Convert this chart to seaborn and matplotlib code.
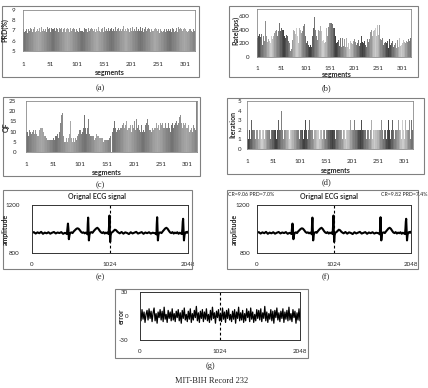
import numpy as np
import pandas as pd
import matplotlib
matplotlib.use("Agg")
import matplotlib.pyplot as plt
import seaborn as sns
from matplotlib.patches import Rectangle

# ---- data (318 segments of MIT-BIH record 232) ----
prd = [7.1, 7.0, 6.9, 7.2, 7.0, 6.9, 7.1, 7.0, 6.8, 7.0, 7.1, 6.9, 7.0, 7.2, 7.3, 7.1, 7.0, 6.9, 7.2, 7.1,
       7.0, 7.3, 7.1, 6.9, 7.0, 7.2, 7.1, 6.9, 7.0, 7.1, 7.2, 7.0, 6.9, 7.1, 7.3, 7.2, 7.0, 7.1, 6.9, 7.0,
       7.2, 7.1, 7.0, 6.9, 7.1, 7.3, 7.0, 7.1, 7.2, 7.0, 6.9, 7.1, 7.2, 7.0, 7.1, 7.3, 7.1, 7.0, 7.2, 7.1,
       7.0, 7.2, 7.3, 7.1, 7.0, 6.9, 7.1, 7.2, 7.0, 7.1, 7.3, 7.2, 7.0, 6.9, 7.1, 7.0, 7.2, 7.1, 6.9, 7.0,
       7.1, 7.3, 7.2, 7.0, 7.1, 6.9, 7.0, 7.2, 7.1, 7.0, 6.9, 7.1, 7.3, 7.2, 7.0, 7.1, 7.0, 6.9, 7.1, 7.2,
       7.0, 7.1, 6.9, 7.0, 7.2, 7.1, 7.0, 6.8, 7.0, 7.1, 7.0, 6.9, 7.1, 7.2, 7.0, 7.1, 7.3, 7.1, 7.0, 6.9,
       7.1, 7.2, 7.0, 6.9, 7.1, 7.3, 7.2, 7.0, 7.1, 6.9, 7.0, 7.2, 7.1, 7.0, 6.9, 7.1, 7.2, 7.0, 7.1, 7.3,
       7.2, 7.0, 7.1, 6.9, 7.0, 7.1, 7.2, 7.0, 6.9, 7.1, 7.3, 7.1, 7.0, 7.2, 7.1, 6.9, 7.0, 7.1, 7.2, 7.0,
       6.9, 7.1, 7.0, 7.2, 7.1, 7.0, 6.9, 7.1, 7.2, 7.0, 7.1, 7.3, 7.0, 6.9, 7.1, 7.0, 7.2, 7.1, 7.0, 6.9,
       7.1, 7.2, 7.0, 7.1, 7.3, 7.4, 7.1, 7.0, 7.2, 7.1, 6.9, 7.0, 7.1, 7.2, 7.0, 7.1, 6.9, 7.0, 7.2, 7.1,
       7.0, 7.1, 7.3, 7.2, 7.0, 6.9, 7.1, 7.0, 7.2, 7.3, 7.1, 7.0, 6.9, 7.1, 7.2, 7.0, 7.1, 7.3, 7.1, 7.0,
       7.2, 7.1, 6.9, 7.0, 7.1, 7.2, 7.3, 7.1, 7.0, 6.9, 7.1, 7.0, 7.2, 7.1, 7.0, 6.9, 7.0, 7.1, 7.2, 7.0,
       7.1, 7.0, 6.9, 7.1, 7.2, 7.0, 7.1, 6.9, 7.0, 7.2, 7.1, 7.0, 6.8, 7.0, 7.1, 7.2, 7.0, 6.9, 7.1, 7.0,
       7.2, 7.1, 7.0, 6.9, 7.0, 7.1, 6.9, 7.0, 7.2, 7.1, 7.0, 6.9, 7.1, 7.0, 6.9, 7.1, 7.2, 7.0, 7.1, 7.0,
       6.9, 7.0, 7.1, 7.2, 7.0, 6.9, 7.1, 7.3, 7.2, 7.1, 7.0, 7.2, 7.3, 7.1, 7.0, 7.2, 7.1, 7.3, 7.2, 7.0,
       7.1, 7.2, 7.0, 7.1, 6.9, 7.0, 7.2, 7.1, 7.0, 7.1, 7.2, 7.0, 7.1, 6.9, 7.0, 7.1, 7.2, 7.0]

rate = [320, 280, 350, 300, 240, 330, 360, 290, 210, 340, 300, 180, 260, 310, 350, 240, 420, 520, 460, 300,
        280, 220, 300, 260, 180, 230, 280, 210, 250, 300, 220, 190, 260, 240, 310, 280, 350, 300, 380, 330,
        400, 360, 300, 420, 380, 470, 500, 450, 380, 480, 420, 360, 400, 350, 390, 330, 300, 360, 280, 380,
        320, 260, 300, 220, 180, 230, 150, 200, 120, 90, 150, 110, 200, 250, 370, 400, 350, 380, 300, 330,
        260, 420, 380, 300, 250, 200, 300, 420, 380, 400, 430, 350, 410, 380, 300, 400, 450, 350, 480, 560,
        300, 250, 200, 280, 230, 260, 180, 240, 150, 120, 180, 100, 140, 200, 300, 380, 420, 500, 580, 480,
        400, 350, 300, 380, 250, 330, 400, 340, 280, 380, 300, 450, 660, 380, 300, 240, 180, 250, 300, 200,
        160, 220, 350, 420, 380, 300, 460, 440, 480, 500, 470, 490, 450, 500, 430, 480, 460, 420, 450, 400,
        430, 380, 300, 250, 200, 280, 220, 180, 250, 200, 160, 230, 270, 200, 150, 240, 280, 200, 160, 220,
        260, 200, 150, 220, 280, 180, 140, 230, 200, 260, 180, 120, 200, 240, 170, 210, 280, 190, 150, 230,
        200, 260, 150, 220, 300, 180, 240, 200, 130, 250, 220, 160, 280, 200, 240, 300, 180, 220, 260, 200,
        150, 230, 280, 200, 180, 240, 140, 200, 260, 180, 220, 150, 260, 300, 360, 280, 400, 350, 300, 420,
        380, 470, 400, 350, 430, 380, 300, 420, 460, 360, 320, 400, 470, 380, 300, 260, 320, 250, 200, 280,
        230, 180, 260, 200, 150, 220, 280, 200, 160, 240, 180, 130, 200, 260, 220, 170, 240, 200, 150, 230,
        200, 150, 120, 180, 240, 200, 280, 160, 130, 200, 250, 180, 140, 220, 270, 200, 160, 230, 180, 240,
        200, 160, 250, 190, 220, 280, 200, 170, 240, 300, 220, 180, 260, 300, 240, 200, 270, 230]

qf = [10, 9, 10, 9, 8, 10, 11, 9, 10, 10, 9, 8, 10, 11, 10, 9, 10, 11, 10, 9,
      8, 8, 9, 8, 10, 11, 12, 13, 12, 11, 12, 11, 10, 9, 8, 7, 8, 6, 7, 6,
      5, 6, 7, 6, 7, 6, 5, 6, 7, 6, 8, 7, 6, 7, 8, 7, 8, 6, 9, 8,
      7, 9, 10, 12, 14, 16, 18, 19, 12, 8, 6, 5, 6, 5, 6, 7, 6, 5, 6, 7,
      9, 12, 15, 10, 7, 6, 5, 6, 7, 6, 5, 6, 7, 6, 10, 8, 7, 9, 10, 11,
      10, 11, 10, 9, 11, 10, 12, 15, 18, 17, 12, 10, 9, 11, 12, 14, 16, 13, 9, 8,
      9, 8, 7, 8, 9, 8, 7, 6, 8, 7, 6, 9, 8, 7, 8, 10, 7, 6, 7, 8,
      7, 6, 7, 6, 5, 6, 7, 6, 7, 6, 5, 6, 7, 6, 6, 7, 6, 8, 9, 8,
      10, 11, 12, 14, 15, 13, 12, 11, 10, 12, 11, 13, 12, 11, 10, 12, 14, 12, 11, 13,
      12, 14, 13, 12, 11, 13, 15, 12, 11, 10, 12, 14, 12, 11, 13, 12, 10, 11, 13, 12,
      14, 15, 12, 11, 13, 16, 14, 12, 11, 13, 12, 11, 10, 12, 13, 11, 10, 9, 11, 12,
      10, 11, 13, 12, 14, 16, 15, 13, 12, 11, 10, 11, 12, 10, 11, 12, 13, 11, 12, 13,
      12, 13, 14, 13, 12, 14, 13, 12, 11, 13, 14, 13, 12, 14, 13, 12, 11, 12, 13, 14,
      13, 12, 11, 12, 14, 13, 12, 11, 10, 12, 13, 12, 14, 13, 12, 11, 13, 12, 14, 15,
      14, 13, 12, 14, 15, 17, 19, 18, 16, 14, 13, 12, 14, 15, 13, 12, 14, 13, 12, 11,
      12, 11, 13, 12, 10, 11, 13, 12, 11, 10, 12, 13, 11, 12, 10, 11, 12, 26]

iterations = [2, 2, 1, 2, 2, 2, 1, 2, 3, 2, 2, 1, 2, 2, 2, 2, 1, 2, 2, 3,
              2, 2, 1, 2, 2, 2, 2, 1, 2, 2, 3, 2, 2, 1, 2, 2, 2, 2, 3, 2,
              1, 2, 2, 2, 2, 1, 2, 3, 2, 2, 2, 1, 2, 2, 2, 2, 1, 2, 2, 2,
              3, 2, 2, 1, 2, 2, 4, 2, 2, 1, 2, 2, 3, 2, 2, 2, 1, 2, 2, 2,
              2, 1, 2, 2, 3, 2, 2, 2, 1, 2, 2, 2, 2, 3, 2, 1, 2, 2, 2, 2,
              1, 2, 2, 3, 2, 2, 2, 2, 1, 2, 2, 2, 3, 2, 2, 1, 2, 2, 2, 3,
              2, 2, 1, 2, 2, 2, 4, 1, 3, 2, 2, 2, 1, 2, 3, 2, 2, 2, 1, 2,
              2, 3, 2, 2, 1, 2, 2, 4, 2, 2, 1, 2, 2, 3, 2, 2, 2, 1, 2, 2,
              2, 2, 3, 2, 1, 2, 2, 2, 2, 1, 2, 2, 3, 2, 2, 2, 1, 2, 2, 2,
              3, 2, 1, 2, 2, 2, 2, 2, 1, 2, 2, 3, 2, 2, 2, 1, 2, 2, 3, 2,
              2, 1, 2, 2, 2, 3, 4, 2, 1, 2, 2, 2, 3, 2, 1, 2, 2, 2, 2, 3,
              2, 2, 1, 2, 3, 2, 2, 2, 1, 2, 2, 3, 2, 2, 1, 2, 2, 2, 3, 2,
              1, 2, 2, 3, 2, 2, 2, 1, 2, 2, 3, 2, 2, 2, 1, 2, 2, 3, 2, 2,
              2, 1, 2, 2, 3, 2, 2, 1, 2, 2, 2, 3, 2, 2, 1, 2, 2, 2, 3, 2,
              2, 2, 1, 3, 2, 2, 2, 1, 2, 2, 3, 2, 2, 2, 2, 1, 2, 3, 2, 2,
              2, 1, 2, 3, 2, 2, 1, 2, 4, 2, 2, 3, 2, 1, 2, 3, 2, 2]

# ECG segment (sample index, amplitude) - original and reconstruction look the same
ecg_t = [0, 24, 48, 72, 96, 120, 144, 168, 192, 216, 240, 264, 288, 312, 336, 360, 384, 408, 432,
         448, 458, 466, 472, 478, 484, 492, 500, 516, 532, 548, 564, 580, 596, 612, 628, 644, 660, 676, 692, 708,
         722, 728, 732, 737, 742, 747, 754, 762, 778, 794, 810, 826, 842, 858, 874, 890, 906, 922, 938, 954, 970, 986, 998,
         1006, 1012, 1017, 1021, 1026, 1032, 1040, 1056, 1072, 1088, 1104, 1120, 1136,
         1152, 1176, 1200, 1224, 1248, 1272, 1296, 1320, 1344, 1368, 1392, 1416, 1440, 1464, 1488, 1512, 1536, 1560, 1584, 1608,
         1628, 1634, 1638, 1643, 1648, 1653, 1660, 1668, 1684, 1700, 1716, 1732, 1748, 1764, 1780, 1796, 1812, 1828, 1844,
         1860, 1876, 1892, 1908, 1924, 1940, 1956,
         1968, 1974, 1979, 1984, 1989, 1995, 2002, 2010, 2024, 2036, 2048]
ecg_v = [968, 974, 962, 972, 965, 976, 960, 970, 964, 973, 961, 969, 975, 963, 971, 966, 974, 960, 968,
         964, 958, 1010, 1045, 1000, 915, 948, 966, 972, 966, 980, 990, 1000, 1006, 1002, 990, 976, 968, 972, 964, 970,
         962, 956, 1040, 1095, 1010, 905, 950, 968, 974, 968, 982, 994, 1004, 1010, 1000, 984, 972, 966, 974, 962, 970, 964, 972,
         958, 1030, 1112, 990, 892, 945, 968, 974, 984, 994, 990, 978, 970,
         964, 975, 961, 972, 967, 958, 973, 963, 970, 976, 962, 968, 974, 960, 971, 965, 973, 962, 969, 966,
         960, 955, 1040, 1098, 1008, 905, 952, 968, 972, 966, 980, 992, 1004, 1010, 1002, 986, 972, 966, 974,
         962, 970, 965, 973, 960, 969, 963,
         958, 1000, 1060, 1085, 1000, 905, 950, 968, 975, 968, 978]

error = [3, -6, 8, -4, 5, -8, 2, 7, -5, 9, -3, 6, -7, 4, 10, -6, 3, -9, 5, -2,
         8, -5, 6, -7, 11, -4, 2, -8, 7, -3, 5, -6, 9, -5, 3, -7, 6, -2, 8, -6,
         4, -9, 7, -3, 10, -5, 2, -7, 6, -4, 9, -8, 3, -5, 7, -2, 12, -6, 4, -8,
         6, -3, 8, -7, 5, -4, 9, -6, 2, -8, 7, -5, 11, -3, 4, -9, 6, -2, 8, -6,
         3, -7, 10, -4, 5, -8, 7, -3, 9, -5, 2, -7, 6, -4, 8, -9, 5, -3, 11, -6,
         4, -5, 7, -8, 3, -6, 9, -2, 6, -7, 10, -4, 5, -8, 2, -6, 8, -3, 7, -5,
         9, -7, 4, -3, 12, -6, 5, -8, 3, -4, 8, -6, 6, -9, 7, -2, 10, -5, 4, -7,
         6, -3, 9, -8, 5, -4, 7, -6, 11, -5, 3, -7, 8, -2, 6, -9, 4, -5, 9, -6]

seg_ticks = [1, 51, 101, 151, 201, 251, 301]

# grey levels of the "vary colours by point" bars
strong_greys = [0.25, 0.3, 0.38, 0.45, 0.5, 0.55, 0.6, 0.68, 0.75, 0.8, 0.75, 0.7, 0.62, 0.55, 0.5, 0.45, 0.38, 0.3]
soft_greys = [0.45, 0.47, 0.5, 0.52, 0.55, 0.57, 0.6, 0.62, 0.64, 0.66, 0.64, 0.62, 0.6, 0.57, 0.55, 0.52, 0.5, 0.47]

sns.set_style("white")
plt.rcParams['font.family'] = ['Lato', 'DejaVu Sans']
plt.rcParams['axes.unicode_minus'] = False

W, H = 428, 388
fig = plt.figure(figsize=(W / 100, H / 100), dpi=100)


def axes_px(x0, y0, x1, y1):
    return fig.add_axes([x0 / W, 1 - y1 / H, (x1 - x0) / W, (y1 - y0) / H])


def box_px(x0, y0, x1, y1):
    fig.add_artist(Rectangle((x0 / W, 1 - y1 / H), (x1 - x0) / W, (y1 - y0) / H,
                             transform=fig.transFigure, fill=False, ec='#808080', lw=0.8))


def text_px(x, y, s, **kw):
    fig.text(x / W, 1 - y / H, s, ha='center', va='center', **kw)


def seg_bars(ax, vals, greys, ylim, yticks, ypad, xpad):
    n = len(vals)
    labels = [str(i) for i in range(1, n + 1)]
    df = pd.DataFrame({'segment': labels, 'value': vals})
    pal = {lab: (g, g, g) for lab, g in
           zip(labels, [greys[(i // 3) % len(greys)] for i in range(n)])}
    sns.barplot(data=df, x='segment', y='value', hue='segment', palette=pal,
                legend=False, width=1.0, linewidth=0, saturation=1, ax=ax)
    ax.set_xlim(-0.5, n - 0.5)
    ax.set_ylim(*ylim)
    ax.set_yticks(yticks)
    ax.set_xticks([t - 1 for t in seg_ticks])
    ax.set_xticklabels([str(t) for t in seg_ticks])
    ax.set_xlabel('')
    ax.set_ylabel('')
    ax.tick_params(axis='x', length=0, pad=xpad, labelsize=4.5)
    ax.tick_params(axis='y', length=1.5, pad=ypad, labelsize=4.5, width=0.5)
    for sp in ax.spines.values():
        sp.set_color('#8a8a8a')
        sp.set_linewidth(0.6)


def ecg_axes(ax, x, y, ylim, yticks, ypad, lw):
    sns.lineplot(x=x, y=y, ax=ax, color='black', lw=lw, sort=False, estimator=None)
    ax.axvline(1024, color='black', ls=(0, (2.5, 2)), lw=0.8)
    ax.set_xlim(0, 2048)
    ax.set_ylim(*ylim)
    ax.set_xticks([0, 1024, 2048])
    ax.set_yticks(yticks)
    ax.set_xlabel('')
    ax.set_ylabel('')
    ax.tick_params(axis='x', length=0, pad=6.5, labelsize=4.5)
    ax.tick_params(axis='y', length=0, pad=ypad, labelsize=4.5)
    for sp in ax.spines.values():
        sp.set_color('#333333')
        sp.set_linewidth(0.7)


bold = dict(fontsize=5, fontweight='bold')
serif = dict(fontsize=6, family='Liberation Serif')

# (a) PRD
box_px(2, 6, 199, 77)
ax = axes_px(23, 10, 195, 51)
seg_bars(ax, prd, soft_greys, (5, 9), [5, 6, 7, 8, 9], 4, 8)
text_px(110, 73, 'segments', **bold)
text_px(5, 30, 'PRD(%)', rotation=90, **bold)
text_px(100, 88, '(a)', **serif)

# (b) rate
box_px(229, 6, 418, 77)
ax = axes_px(257, 9, 411, 57)
seg_bars(ax, rate, strong_greys, (0, 700), [0, 200, 400, 600], 4, 6.5)
text_px(337, 75, 'segments', **bold)
text_px(236, 30, 'Rate(bps)', rotation=90, **bold)
text_px(326, 88, '(b)', **serif)

# (c) QF
box_px(3, 97, 200, 176)
ax = axes_px(26, 101, 197, 152)
seg_bars(ax, qf, soft_greys, (0, 25), [0, 5, 10, 15, 20, 25], 5.5, 7)
text_px(107, 172, 'segments', **bold)
text_px(6, 127, 'QF', rotation=90, **bold)
text_px(100, 185, '(c)', **serif)

# (d) iterations
box_px(227, 98, 424, 174)
ax = axes_px(247, 101, 413, 149)
seg_bars(ax, iterations, strong_greys, (0, 5), [0, 1, 2, 3, 4, 5], 2.5, 7)
text_px(336, 171, 'segments', **bold)
text_px(233, 125, 'Iteration', rotation=90, **bold)
text_px(326, 182, '(d)', **serif)

# (e) original ECG
box_px(3, 190, 192, 269)
ax = axes_px(32, 205, 188, 253)
ecg_axes(ax, ecg_t, ecg_v, (800, 1200), [800, 1200], 9, 1.5)
text_px(97, 196, 'Orignal ECG signal', **bold)
text_px(5, 229, 'amplitude', rotation=90, **bold)
text_px(100, 277, '(e)', **serif)

# (f) reconstructed ECG
box_px(227, 190, 418, 269)
ax = axes_px(257, 205, 411, 253)
ecg_axes(ax, ecg_t, ecg_v, (800, 1200), [800, 1200], 5, 1.5)
text_px(329, 197, 'Orignal ECG signal', **bold)
text_px(251, 195, 'CR=9.06 PRD=7.0%', fontsize=3.8)
text_px(404, 195, 'CR=9.82 PRD=7.4%', fontsize=3.8)
text_px(234, 229, 'amplitude', rotation=90, **bold)
text_px(326, 277, '(f)', **serif)

# (g) error
box_px(115, 289, 308, 358)
ax = axes_px(140, 292, 300, 340)
ecg_axes(ax, np.linspace(0, 2048, len(error)), error, (-30, 30), [-30, 0, 30], 8.5, 0.9)
text_px(121, 316, 'error', rotation=90, **bold)
text_px(210, 366, '(g)', **serif)

text_px(212, 381, 'MIT-BIH Record 232', **serif)

fig.savefig('out.png', dpi=100)
